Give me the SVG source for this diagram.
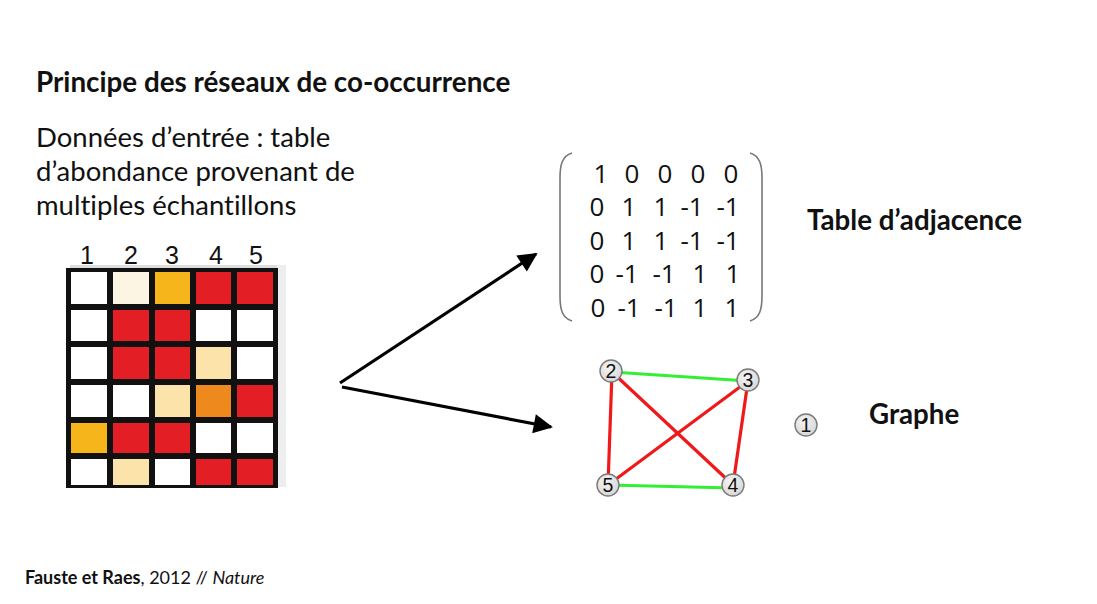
<svg xmlns="http://www.w3.org/2000/svg" width="1097" height="604" viewBox="0 0 1097 604">
  <defs>
    <marker id="arrow" viewBox="0 0 10 10" refX="9" refY="5" markerWidth="7" markerHeight="6" markerUnits="strokeWidth" orient="auto">
      <path d="M0,0 L10,5 L0,10 z" fill="#000"/>
    </marker>
    <radialGradient id="nodeFill" cx="0.4" cy="0.35" r="0.7">
      <stop offset="0" stop-color="#f4f4f4"/>
      <stop offset="1" stop-color="#d6d6d6"/>
    </radialGradient>
  </defs>
  <style>
    text { font-variant-ligatures: none; }
    .title { font-family: Lato, "Liberation Sans", sans-serif; font-weight: bold; font-size: 27.8px; fill: #111; }
    .body { font-family: Lato, "Liberation Sans", sans-serif; font-size: 27.5px; fill: #111; }
    .colnum { font-family: "Liberation Sans", Arial, sans-serif; font-size: 25px; fill: #111; text-anchor: middle; }
    .mx { font-family: "Open Sans", "Liberation Sans", sans-serif; font-size: 26px; fill: #111; text-anchor: middle; }
    .lbl { font-family: Lato, "Liberation Sans", sans-serif; font-weight: bold; font-size: 27.7px; fill: #111; }
    .foot { font-family: Lato, "Liberation Sans", sans-serif; font-size: 18px; fill: #111; }
    .w { fill: #ffffff; }
    .r { fill: #e31e24; }
    .o { fill: #f7b51c; }
    .d { fill: #ee8a1d; }
    .t { fill: #fbe3a9; }
    .c { fill: #fdf5e4; }
    .paren { fill: none; stroke: #777; stroke-width: 1.6; }
    .pos { stroke: #33ee33; stroke-width: 3.2; fill: none; }
    .neg { stroke: #f01818; stroke-width: 3.2; fill: none; }
    .node circle { fill: url(#nodeFill); stroke: #7a7a7a; stroke-width: 1.4; }
    .node text { font-family: "Liberation Sans", Arial, sans-serif; font-size: 19.5px; fill: #111; text-anchor: middle; }
    .arr { stroke: #000; stroke-width: 3.2; fill: none; marker-end: url(#arrow); }
  </style>

  <rect width="1097" height="604" fill="#ffffff"/>

  <!-- Heading and description -->
  <text class="title" x="36" y="92">Principe des réseaux de co-occurrence</text>
  <text class="body" x="36" y="147">Données d’entrée : table</text>
  <text class="body" x="36" y="181">d’abondance provenant de</text>
  <text class="body" x="36" y="215">multiples échantillons</text>

  <!-- Abundance table -->
  <g id="abundance-table">
    <rect x="70" y="265" width="216" height="3" fill="#dddddd"/>
    <rect x="277" y="265" width="9" height="222" fill="#eeeeee"/>
    <rect x="66" y="268" width="212" height="220" fill="#111"/>
    <!-- row 1 -->
    <rect class="w" x="71" y="272" width="36" height="32"/>
    <rect class="c" x="113" y="272" width="36" height="32"/>
    <rect class="o" x="155" y="272" width="35" height="32"/>
    <rect class="r" x="196" y="272" width="35" height="32"/>
    <rect class="r" x="237" y="272" width="36" height="32"/>
    <!-- row 2 -->
    <rect class="w" x="71" y="310" width="36" height="31"/>
    <rect class="r" x="113" y="310" width="36" height="31"/>
    <rect class="r" x="155" y="310" width="35" height="31"/>
    <rect class="w" x="196" y="310" width="35" height="31"/>
    <rect class="w" x="237" y="310" width="36" height="31"/>
    <!-- row 3 -->
    <rect class="w" x="71" y="347" width="36" height="32"/>
    <rect class="r" x="113" y="347" width="36" height="32"/>
    <rect class="r" x="155" y="347" width="35" height="32"/>
    <rect class="t" x="196" y="347" width="35" height="32"/>
    <rect class="w" x="237" y="347" width="36" height="32"/>
    <!-- row 4 -->
    <rect class="w" x="71" y="385" width="36" height="32"/>
    <rect class="w" x="113" y="385" width="36" height="32"/>
    <rect class="t" x="155" y="385" width="35" height="32"/>
    <rect class="d" x="196" y="385" width="35" height="32"/>
    <rect class="r" x="237" y="385" width="36" height="32"/>
    <!-- row 5 -->
    <rect class="o" x="71" y="423" width="36" height="30"/>
    <rect class="r" x="113" y="423" width="36" height="30"/>
    <rect class="r" x="155" y="423" width="35" height="30"/>
    <rect class="w" x="196" y="423" width="35" height="30"/>
    <rect class="w" x="237" y="423" width="36" height="30"/>
    <!-- row 6 -->
    <rect class="w" x="71" y="459" width="36" height="26"/>
    <rect class="t" x="113" y="459" width="36" height="26"/>
    <rect class="w" x="155" y="459" width="35" height="26"/>
    <rect class="r" x="196" y="459" width="35" height="26"/>
    <rect class="r" x="237" y="459" width="36" height="26"/>
    <!-- column numbers -->
    <text class="colnum" x="87" y="264">1</text>
    <text class="colnum" x="131" y="264">2</text>
    <text class="colnum" x="172" y="264">3</text>
    <text class="colnum" x="216" y="264">4</text>
    <text class="colnum" x="256" y="264">5</text>
  </g>

  <!-- Connectors -->
  <g id="connectors">
    <line class="arr" x1="340" y1="383" x2="536" y2="254"/>
    <line class="arr" x1="342" y1="387" x2="551" y2="427"/>
  </g>

  <!-- Adjacency matrix -->
  <g id="adjacency-matrix">
    <path class="paren" d="M572,153 C562,156 560,165 560,178 L560,296 C560,309 562,318 572,321"/>
    <path class="paren" d="M750,153 C760,156 762,165 762,178 L762,296 C762,309 760,318 750,321"/>
    <text class="mx" x="601" y="183">1</text><text class="mx" x="632" y="183">0</text><text class="mx" x="665" y="183">0</text><text class="mx" x="698" y="183">0</text><text class="mx" x="731" y="183">0</text>
    <text class="mx" x="597" y="216">0</text><text class="mx" x="629" y="216">1</text><text class="mx" x="661" y="216">1</text><text class="mx" x="692" y="216">-1</text><text class="mx" x="728" y="216">-1</text>
    <text class="mx" x="597" y="250">0</text><text class="mx" x="629" y="250">1</text><text class="mx" x="661" y="250">1</text><text class="mx" x="692" y="250">-1</text><text class="mx" x="728" y="250">-1</text>
    <text class="mx" x="597" y="283">0</text><text class="mx" x="627" y="283">-1</text><text class="mx" x="664" y="283">-1</text><text class="mx" x="700" y="283">1</text><text class="mx" x="733" y="283">1</text>
    <text class="mx" x="598" y="317">0</text><text class="mx" x="629" y="317">-1</text><text class="mx" x="666" y="317">-1</text><text class="mx" x="700" y="317">1</text><text class="mx" x="732" y="317">1</text>
  </g>
  <text class="lbl" x="807" y="230">Table d’adjacence</text>

  <!-- Co-occurrence graph -->
  <g id="graph-edges">
    <line class="pos" x1="612" y1="372" x2="748" y2="381"/>
    <line class="pos" x1="608" y1="485" x2="733" y2="488"/>
    <line class="neg" x1="612" y1="372" x2="608" y2="485"/>
    <line class="neg" x1="748" y1="381" x2="733" y2="485"/>
    <line class="neg" x1="612" y1="372" x2="733" y2="485"/>
    <line class="neg" x1="748" y1="381" x2="608" y2="485"/>
  </g>
  <g id="node-2" class="node"><circle cx="611" cy="371" r="11"/><text x="611" y="378">2</text></g>
  <g id="node-3" class="node"><circle cx="748" cy="380" r="11"/><text x="748" y="387">3</text></g>
  <g id="node-4" class="node"><circle cx="733" cy="485" r="11"/><text x="733" y="492">4</text></g>
  <g id="node-5" class="node"><circle cx="608" cy="485" r="11"/><text x="608" y="492">5</text></g>
  <g id="node-1" class="node"><circle cx="806" cy="425" r="11"/><text x="806" y="432">1</text></g>
  <text class="lbl" x="869" y="424">Graphe</text>

  <!-- Reference -->
  <text class="foot" x="25" y="584"><tspan font-weight="bold">Fauste et Raes</tspan>, 2012 // <tspan font-style="italic">Nature</tspan></text>
</svg>
